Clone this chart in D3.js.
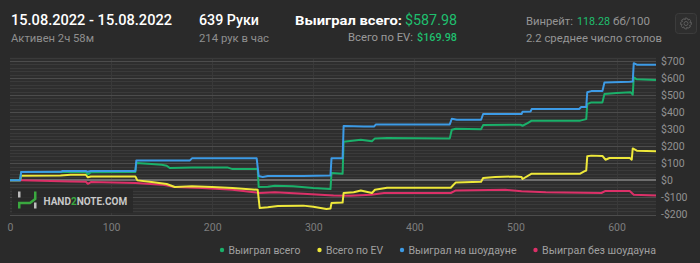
<!doctype html>
<html>
<head>
<meta charset="utf-8">
<title>Hand2Note graph</title>
<script src="https://cdn.jsdelivr.net/npm/d3@7"></script>
<style>
    html, body { margin: 0; padding: 0; background: #2a2a2a; }
    svg { display: block; font-family: Roboto, "Noto Sans", sans-serif; }
</style>
</head>
<body>
<script>
    // [hand, $] points
    const wonTotal = [[0,0],[10,0],[11,49],[75,49],[77,35],[80,47],[124,49],[125,102],[140,96],[150,92],[155,86],[158,72],
        [180,76],[200,75],[215,76],[220,66],[245,66],[246,-39],[255,-37],[262,-31],[280,-35],[300,-45],[317,-51],[318,43],
        [329,39],[330,227],[347,238],[358,229],[361,246],[373,248],[435,246],[437,297],[441,303],[466,300],[468,324],
        [505,326],[507,320],[512,335],[516,350],[564,350],[570,359],[571,447],[575,457],[586,457],[588,506],[600,512],
        [614,516],[616,502],[617,603],[620,592],[639,588]];
    const wonEV = [[0,0],[10,0],[11,27],[50,29],[60,33],[75,33],[77,18],[80,23],[124,23],[126,0],[140,-10],[155,-21],
        [163,-39],[180,-35],[200,-39],[220,-45],[245,-55],[247,-162],[255,-158],[265,-150],[290,-148],[300,-155],
        [313,-168],[317,-165],[318,-133],[329,-130],[330,-74],[340,-70],[347,-59],[358,-74],[361,-55],[373,-43],
        [436,-43],[441,-12],[466,-8],[468,14],[480,20],[500,23],[506,20],[507,8],[516,39],[564,39],[568,53],[570,58],
        [571,141],[575,145],[586,143],[589,121],[593,131],[613,131],[615,121],[616,187],[620,174],[639,170]];
    const wonShowdown = [[0,0],[10,0],[11,49],[50,50],[52,55],[75,55],[77,50],[80,55],[124,55],[125,117],[178,117],
        [180,129],[244,129],[246,25],[250,20],[255,25],[290,26],[317,28],[318,129],[329,129],[330,318],[350,315],
        [360,315],[362,328],[435,328],[437,361],[442,355],[466,355],[468,389],[506,389],[507,402],[515,404],[516,418],
        [563,418],[565,430],[570,430],[571,516],[575,523],[586,523],[588,574],[613,578],[616,580],[617,687],[620,678],
        [639,677]];
    const wonNonShowdown = [[0,0],[10,0],[11,0],[60,-6],[75,-8],[77,-20],[80,-10],[124,-16],[150,-25],[163,-39],
        [190,-45],[220,-55],[247,-74],[262,-70],[290,-78],[320,-88],[337,-90],[357,-84],[370,-74],[436,-74],[441,-59],
        [490,-55],[506,-64],[530,-70],[585,-74],[589,-62],[613,-62],[617,-84],[639,-88]];

    const seriesNames = ["Выиграл всего", "Всего по EV", "Выиграл на шоудауне", "Выиграл без шоудауна"];
    const seriesColors = ["#1ab06a", "#eee83a", "#3d9be6", "#dc3068"];
    const seriesData = [wonTotal, wonEV, wonShowdown, wonNonShowdown];

    const xTicks = [0, 100, 200, 300, 400, 500, 600];
    const yTicks = [-200, -100, 0, 100, 200, 300, 400, 500, 600, 700];
    const totalHands = 639;

    const width = 700, height = 263;
    const plot = {left: 10, right: 656, top: 57.5, bottom: 214.5};
    const green = "#1fbf6e", grey = "#8f8f8f";

    const svg = d3.select("body").append("svg")
        .attr("width", width)
        .attr("height", height);

    const x = d3.scaleLinear().domain([0, totalHands]).range([plot.left, plot.right]);
    const y = d3.scaleLinear().domain([-200, 720]).range([plot.bottom, plot.top]);

    // the screenshot's font runs narrow, so squeeze text to the width it has there
    function txt(tx, ty, size, weight, colour, str, len, anchor) {
        const t = svg.append("text")
            .attr("x", tx).attr("y", ty)
            .attr("font-size", size)
            .attr("font-weight", weight)
            .attr("fill", colour)
            .attr("text-anchor", anchor || "start")
            .text(str);
        if (len) t.attr("textLength", len).attr("lengthAdjust", "spacingAndGlyphs");
        return t;
    }

    // header
    txt(11, 25, 15.5, 500, "#ffffff", "15.08.2022 - 15.08.2022", 161);
    txt(11, 42, 10.5, 400, grey, "Активен 2ч 58м", 83);
    txt(199, 25, 15.5, 500, "#ffffff", "639 Руки", 60);
    txt(199, 42, 10.5, 400, grey, "214 рук в час", 70);
    txt(295, 25, 13.5, 700, "#ffffff", "Выиграл всего:", 107);
    txt(405, 25, 14.5, 400, green, "$587.98", 52);
    txt(348, 41, 10.5, 400, "#9a9a9a", "Всего по EV:", 65);
    txt(417, 41, 10.5, 500, green, "$169.98", 40);
    txt(526, 25, 11.5, 400, "#959595", "Винрейт:", 47);
    txt(577, 25, 11.5, 400, green, "118.28", 33);
    txt(613, 25, 11.5, 400, "#959595", "бб/100", 37);
    txt(526, 42, 11, 400, "#959595", "2.2 среднее число столов", 136);

    // settings button
    const gear = svg.append("g").attr("transform", "translate(675.5,13.5)");
    gear.append("rect").attr("width", 21).attr("height", 20).attr("rx", 3)
        .attr("fill", "#2e2e2e").attr("stroke", "#3c3c3c");
    const gc = gear.append("g").attr("transform", "translate(10.5,10)")
        .attr("fill", "none").attr("stroke", "#5c5c5c").attr("stroke-width", 1);
    gc.append("circle").attr("r", 2);
    const teeth = d3.range(8).map(i => {
        const a = i * Math.PI / 4, b = a + Math.PI / 8;
        return [[Math.cos(a - 0.2) * 5.5, Math.sin(a - 0.2) * 5.5], [Math.cos(a + 0.2) * 5.5, Math.sin(a + 0.2) * 5.5],
            [Math.cos(b + 0.25) * 4, Math.sin(b + 0.25) * 4]];
    }).flat();
    gc.append("path").attr("d", d3.line().curve(d3.curveLinearClosed)(teeth));

    // plot background and grid
    svg.append("rect")
        .attr("x", plot.left).attr("y", plot.top)
        .attr("width", plot.right - plot.left).attr("height", plot.bottom - plot.top)
        .attr("fill", "#2e2e2e");

    const grid = svg.append("g").attr("shape-rendering", "crispEdges");
    grid.selectAll(".minor").data(d3.range(-200, 721, 20).filter(v => v % 100 !== 0))
        .join("line")
        .attr("x1", plot.left).attr("x2", plot.right)
        .attr("y1", d => Math.round(y(d)) + 0.5).attr("y2", d => Math.round(y(d)) + 0.5)
        .attr("stroke", "#3a3a3a");
    grid.selectAll(".vx").data(xTicks.filter(v => v > 0))
        .join("line")
        .attr("x1", d => Math.round(x(d)) + 0.5).attr("x2", d => Math.round(x(d)) + 0.5)
        .attr("y1", plot.top).attr("y2", plot.bottom)
        .attr("stroke", "#393939");
    grid.selectAll(".major").data(yTicks.filter(v => v !== 0))
        .join("line")
        .attr("x1", plot.left).attr("x2", plot.right)
        .attr("y1", d => Math.round(y(d)) + 0.5).attr("y2", d => Math.round(y(d)) + 0.5)
        .attr("stroke", "#4c4c4c");
    grid.append("line")
        .attr("x1", plot.left).attr("x2", plot.right)
        .attr("y1", y(0)).attr("y2", y(0))
        .attr("stroke", "#6e6e6e").attr("stroke-width", 2);

    // watermark
    const wm = svg.append("g");
    wm.append("rect").attr("x", 12).attr("y", 189).attr("width", 121).attr("height", 24).attr("fill", "#282828").attr("opacity", 0.85);
    wm.append("rect").attr("x", 18).attr("y", 191.5).attr("width", 2.5).attr("height", 6).attr("fill", "#bdbdbd");
    wm.append("rect").attr("x", 34).attr("y", 202.5).attr("width", 2.5).attr("height", 6).attr("fill", "#bdbdbd");
    wm.append("path").attr("d", "M19.25,208.5 V203 H30 L35.25,199 V191.5")
        .attr("fill", "none").attr("stroke", "#3aa83f").attr("stroke-width", 2.5);
    const wt = wm.append("text").attr("x", 43.5).attr("y", 204.5).attr("font-size", 10).attr("font-weight", 700)
        .attr("fill", "#c8c8c8");
    wt.append("tspan").text("HAND");
    wt.append("tspan").attr("fill", "#3aa83f").text("2");
    wt.append("tspan").text("NOTE.COM");

    // axes
    const xAxis = svg.append("g")
        .attr("transform", `translate(0,${plot.bottom})`)
        .call(d3.axisBottom(x).tickValues(xTicks).tickSize(0).tickPadding(9));
    xAxis.select(".domain").remove();
    xAxis.selectAll("text").attr("font-size", 10.5).attr("fill", "#7e7e7e");

    const yAxis = svg.append("g")
        .attr("transform", `translate(${plot.right},0)`)
        .call(d3.axisRight(y).tickValues(yTicks).tickSize(0).tickPadding(5)
            .tickFormat(d => (d < 0 ? "-$" : "$") + Math.abs(d)));
    yAxis.select(".domain").remove();
    yAxis.selectAll("text").attr("font-size", 10.5).attr("fill", "#929292");
    yAxis.attr("font-family", null);
    xAxis.attr("font-family", null);

    // series
    const line = d3.line().x(d => x(d[0])).y(d => y(d[1]));
    const order = [3, 1, 0, 2];
    svg.append("g").selectAll("path")
        .data(order)
        .join("path")
        .attr("d", i => line(seriesData[i]))
        .attr("fill", "none")
        .attr("stroke", i => seriesColors[i])
        .attr("stroke-width", 2)
        .attr("stroke-linejoin", "round");

    // legend, right aligned to the plot edge
    const legendWidths = [72, 57, 108, 114];
    let cursor = plot.right;
    for (let i = seriesNames.length - 1; i >= 0; --i) {
        const w = legendWidths[i];
        txt(cursor - w, 254, 11, 400, "#a0a0a0", seriesNames[i], w);
        svg.append("circle").attr("cx", cursor - w - 6.5).attr("cy", 250).attr("r", 2.2).attr("fill", seriesColors[i]);
        cursor = cursor - w - 6.5 - 19;
    }
</script>
</body>
</html>
